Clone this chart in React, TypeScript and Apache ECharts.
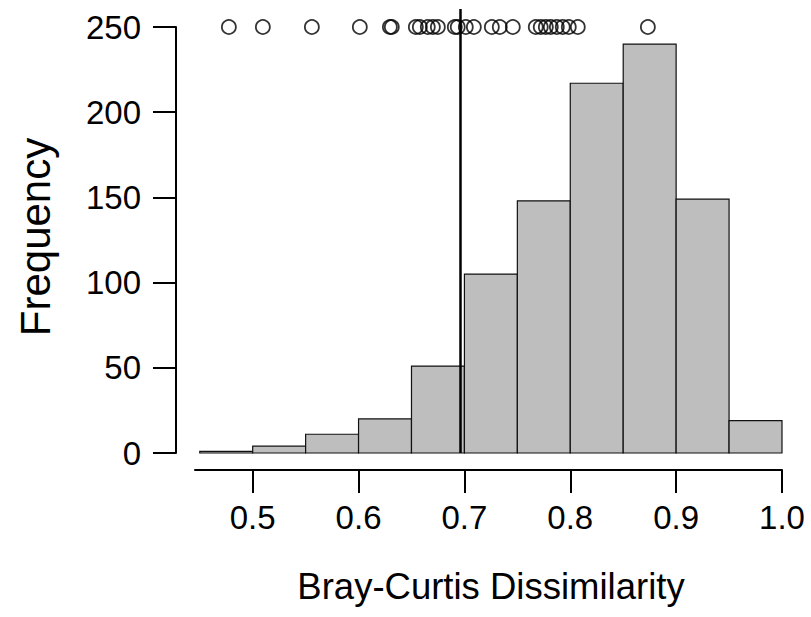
import React, { useEffect, useRef } from "react";
import * as echarts from "echarts";

// Histogram bins: [start, end]
const binStarts = [0.45, 0.5, 0.55, 0.6, 0.65, 0.7, 0.75, 0.8, 0.85, 0.9, 0.95];
const binEnds = [0.5, 0.55, 0.6, 0.65, 0.7, 0.75, 0.8, 0.85, 0.9, 0.95, 1.0];
const frequencies = [1, 4, 11, 20, 51, 105, 148, 217, 240, 149, 19];

// Observed dissimilarities plotted as circles at the top
const observed = [
  0.4775, 0.5096, 0.5559, 0.6012, 0.6296, 0.6314, 0.6541, 0.6579, 0.6654, 0.6702,
  0.6749, 0.6909, 0.6937, 0.7013, 0.7089, 0.7259, 0.7334, 0.7457, 0.7674, 0.7721,
  0.7769, 0.7816, 0.7873, 0.7929, 0.7986, 0.8071, 0.8733,
];
const circleLevel = 250;

// Vertical reference line
const referenceValue = 0.6963;

const xTicks = [0.5, 0.6, 0.7, 0.8, 0.9, 1.0];
const xTitle = "Bray-Curtis Dissimilarity";
const yTitle = "Frequency";

const FONT = "'Liberation Sans', Arial, Helvetica, sans-serif";

export default function App() {
  const ref = useRef<HTMLDivElement>(null);

  useEffect(() => {
    if (!ref.current) return;
    const chart = echarts.init(ref.current, null, { renderer: "svg" });

    const histData = binStarts.map((s, i) => [s, binEnds[i], frequencies[i]]);

    chart.setOption({
      animation: false,
      backgroundColor: "#ffffff",
      grid: { left: 195, right: 29, top: 27, bottom: 164, containLabel: false },
      xAxis: {
        type: "value",
        min: 0.4455,
        max: 1.0,
        offset: 17,
        splitLine: { show: false },
        axisLine: { show: true, onZero: false, lineStyle: { color: "#000", width: 2 } },
        axisTick: {
          show: true,
          inside: false,
          customValues: xTicks,
          length: 23,
          lineStyle: { color: "#000", width: 2 },
        },
        axisLabel: {
          show: true,
          customValues: xTicks,
          formatter: (v: number) => v.toFixed(1),
          fontSize: 33,
          fontFamily: FONT,
          color: "#000",
          margin: 31,
        },
      },
      yAxis: {
        type: "value",
        min: 0,
        max: 250,
        interval: 50,
        offset: 19,
        splitLine: { show: false },
        axisLine: { show: true, onZero: false, lineStyle: { color: "#000", width: 2 } },
        axisTick: { show: true, length: 23, lineStyle: { color: "#000", width: 2 } },
        axisLabel: {
          fontSize: 33,
          fontFamily: FONT,
          color: "#000",
          margin: 35,
        },
      },
      series: [
        {
          type: "custom",
          data: histData,
          encode: { x: [0, 1], y: 2 },
          renderItem: (params: any, api: any) => {
            const p0 = api.coord([api.value(0), 0]);
            const p1 = api.coord([api.value(1), api.value(2)]);
            return {
              type: "rect",
              shape: { x: p0[0], y: p1[1], width: p1[0] - p0[0], height: p0[1] - p1[1] },
              style: { fill: "#BEBEBE", stroke: "#111", lineWidth: 1.2 },
            };
          },
          z: 2,
        },
        {
          type: "scatter",
          data: observed.map((v) => [v, circleLevel]),
          symbol: "circle",
          symbolSize: 14,
          clip: false,
          itemStyle: { color: "rgba(0,0,0,0)", borderColor: "#000", borderWidth: 1.8 },
          z: 3,
        },
        {
          type: "custom",
          data: [[referenceValue]],
          encode: { x: 0 },
          clip: false,
          renderItem: (params: any, api: any) => {
            const b = api.coord([api.value(0), 0]);
            const t = api.coord([api.value(0), 250]);
            return {
              type: "line",
              shape: { x1: b[0], y1: b[1], x2: t[0], y2: t[1] - 18 },
              style: { stroke: "#000", lineWidth: 2.5 },
            };
          },
          z: 4,
        },
      ],
      graphic: [
        {
          type: "text",
          x: 491,
          y: 586,
          style: {
            text: xTitle,
            fontSize: 36.5,
            fontFamily: FONT,
            fill: "#000",
            textAlign: "center",
            textVerticalAlign: "middle",
          },
        },
        {
          type: "text",
          x: 35,
          y: 237,
          rotation: Math.PI / 2,
          style: {
            text: yTitle,
            fontSize: 42,
            fontFamily: FONT,
            fill: "#000",
            textAlign: "center",
            textVerticalAlign: "middle",
          },
        },
      ],
    });

    return () => chart.dispose();
  }, []);

  return (
    <div
      ref={ref}
      style={{ position: "fixed", left: 0, top: 0, width: 811, height: 617 }}
    />
  );
}
